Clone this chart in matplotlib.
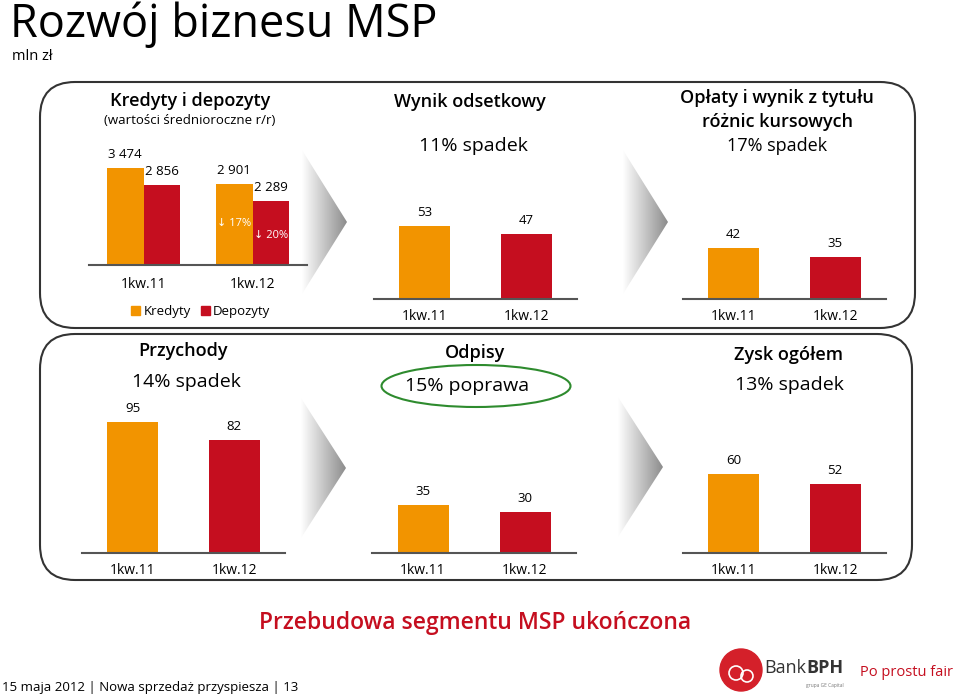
import numpy as np
import matplotlib
matplotlib.use('Agg')
import matplotlib.pyplot as plt
from matplotlib.patches import FancyBboxPatch, Ellipse, Polygon, Rectangle, Circle

plt.rcParams['font.family'] = ['Open Sans', 'DejaVu Sans']

# data
categories = ['1kw.11', '1kw.12']
kredyty = [3474, 2901]
depozyty = [2856, 2289]
wynik_odsetkowy = [53, 47]
oplaty = [42, 35]
przychody = [95, 82]
odpisy = [35, 30]
zysk = [60, 52]
zmiana_kd = ['17%', '20%']

ORANGE = '#F29400'
RED = '#C50E1F'
W, H = 960, 699

fig = plt.figure(figsize=(W / 100, H / 100), dpi=100)
bg = fig.add_axes([0, 0, 1, 1])
bg.set_xlim(0, W)
bg.set_ylim(H, 0)
bg.axis('off')


def px_axes(x0, y0, x1, y1):
    ax = fig.add_axes([x0 / W, 1 - y1 / H, (x1 - x0) / W, (y1 - y0) / H])
    ax.set_facecolor('none')
    for s in ['top', 'right', 'left']:
        ax.spines[s].set_visible(False)
    ax.spines['bottom'].set_color('#555555')
    ax.spines['bottom'].set_linewidth(1.5)
    ax.set_yticks([])
    ax.set_xlim(-0.5, 1.5)
    ax.set_xticks([0, 1])
    ax.set_xticklabels(categories, fontsize=10)
    ax.tick_params(axis='x', length=0, pad=7)
    return ax


def fmt(v):
    return '{:,}'.format(v).replace(',', ' ')


def bar_labels(ax, xs, vals):
    for x, v in zip(xs, vals):
        ax.annotate(fmt(v), (x, v), xytext=(0, 5), textcoords='offset points',
                    ha='center', va='bottom', fontsize=9.5)


def simple_panel(rect, ymax, vals):
    ax = px_axes(*rect)
    ax.bar([0, 1], vals, width=0.5, color=[ORANGE, RED])
    ax.set_ylim(0, ymax)
    bar_labels(ax, [0, 1], vals)
    return ax


# title
bg.text(10, 37, 'Rozwój biznesu MSP', fontsize=32.5, va='baseline', ha='left')
bg.text(12, 60, 'mln zł', fontsize=10.5, va='baseline', ha='left')

# boxes
for (x0, y0, x1, y1) in [(40, 82, 915, 328), (40, 334, 912, 580)]:
    bg.add_patch(FancyBboxPatch((x0, y0), x1 - x0, y1 - y0,
                                boxstyle='round,pad=0,rounding_size=35',
                                fc='white', ec='#333333', lw=1.5))

# grey chevrons
grad = np.linspace(0, 1, 256).reshape(1, -1)
cmap = matplotlib.colors.LinearSegmentedColormap.from_list('g', ['#ffffff', '#8c8c8c'])
for tipx, tipy, half in [(347, 222, 72), (668, 222, 72), (346, 468, 70), (663, 467, 70)]:
    poly = Polygon([(tipx - 45, tipy - half), (tipx, tipy), (tipx - 45, tipy + half)],
                   closed=True, fc='none', ec='none')
    bg.add_patch(poly)
    im = bg.imshow(grad, extent=(tipx - 45, tipx, tipy + half, tipy - half),
                   cmap=cmap, aspect='auto', zorder=1)
    im.set_clip_path(poly)
bg.set_xlim(0, W)
bg.set_ylim(H, 0)

# panel 1: kredyty i depozyty
bg.text(190, 101, 'Kredyty i depozyty', fontsize=13, fontweight='semibold', ha='center', va='center')
bg.text(190, 121, '(wartości średnioroczne r/r)', fontsize=9.5, ha='center', va='center')
ax1 = px_axes(89, 140, 307, 265)
bw = 0.335
x = np.arange(len(categories))
ax1.bar(x - bw / 2, kredyty, width=bw, color=ORANGE)
ax1.bar(x + bw / 2, depozyty, width=bw, color=RED)
ax1.set_ylim(0, 4477)
bar_labels(ax1, x - bw / 2, kredyty)
bar_labels(ax1, x + bw / 2, depozyty)
ax1.text(1 - bw / 2, 1500, '\u2193 ' + zmiana_kd[0], color='white', fontsize=8,
         ha='center', va='center')
ax1.text(1 + bw / 2, 1040, '\u2193 ' + zmiana_kd[1], color='white', fontsize=8,
         ha='center', va='center')
ax1.tick_params(axis='x', pad=9)

# legend
bg.add_patch(Rectangle((131, 306), 9, 9, color=ORANGE))
bg.text(144, 311, 'Kredyty', fontsize=9.5, va='center', ha='left')
bg.add_patch(Rectangle((201, 306), 9, 9, color=RED))
bg.text(213, 311, 'Depozyty', fontsize=9.5, va='center', ha='left')

# panel 2: wynik odsetkowy
bg.text(470, 102, 'Wynik odsetkowy', fontsize=13, fontweight='semibold', ha='center', va='center')
bg.text(473, 146, '11% spadek', fontsize=14, ha='center', va='center')
simple_panel((374, 180, 577, 299), 86.4, wynik_odsetkowy)

# panel 3: oplaty
bg.text(777, 98, 'Opłaty i wynik z tytułu', fontsize=13, fontweight='semibold', ha='center', va='center')
bg.text(777, 122, 'różnic kursowych', fontsize=13, fontweight='semibold', ha='center', va='center')
bg.text(777, 146, '17% spadek', fontsize=13, ha='center', va='center')
simple_panel((683, 180, 886, 299), 98.3, oplaty)

# panel 4: przychody
bg.text(183, 351, 'Przychody', fontsize=13, fontweight='semibold', ha='center', va='center')
bg.text(186, 382, '14% spadek', fontsize=14, ha='center', va='center')
simple_panel((82, 405, 285, 553), 107, przychody)

# panel 5: odpisy
bg.text(475, 353, 'Odpisy', fontsize=13, fontweight='semibold', ha='center', va='center')
bg.text(467, 386, '15% poprawa', fontsize=14, ha='center', va='center')
bg.add_patch(Ellipse((476, 386), 189, 42, fc='none', ec='#2E8B2E', lw=1.5))
simple_panel((372, 405, 576, 553), 108, odpisy)

# panel 6: zysk
bg.text(789, 355, 'Zysk ogółem', fontsize=13, fontweight='semibold', ha='center', va='center')
bg.text(789, 385, '13% spadek', fontsize=14, ha='center', va='center')
simple_panel((683, 405, 886, 553), 112, zysk)

# footer
bg.text(475, 623, 'Przebudowa segmentu MSP ukończona', fontsize=16.5, color=RED,
        fontweight='semibold', ha='center', va='center')
bg.text(2, 687, '15 maja 2012 | Nowa sprzedaż przyspiesza | 13', fontsize=9.5,
        ha='left', va='center')
bg.add_patch(Circle((741, 670), 21, color='#D4202A'))
bg.add_patch(Circle((736, 673), 7, fc='none', ec='white', lw=1.2))
bg.add_patch(Circle((747, 676), 6, fc='none', ec='white', lw=1.2))
bg.text(764, 668, 'Bank', fontsize=13, color='#333333', ha='left', va='center')
bg.text(806, 668, 'BPH', fontsize=13, color='#333333', fontweight='bold', ha='left', va='center')
bg.text(806, 685, 'grupa GE Capital', fontsize=3.5, color='#777777', ha='left', va='center')
bg.text(860, 672, 'Po prostu fair', fontsize=10.5, color=RED, ha='left', va='center')

fig.savefig('out.png', dpi=100)
